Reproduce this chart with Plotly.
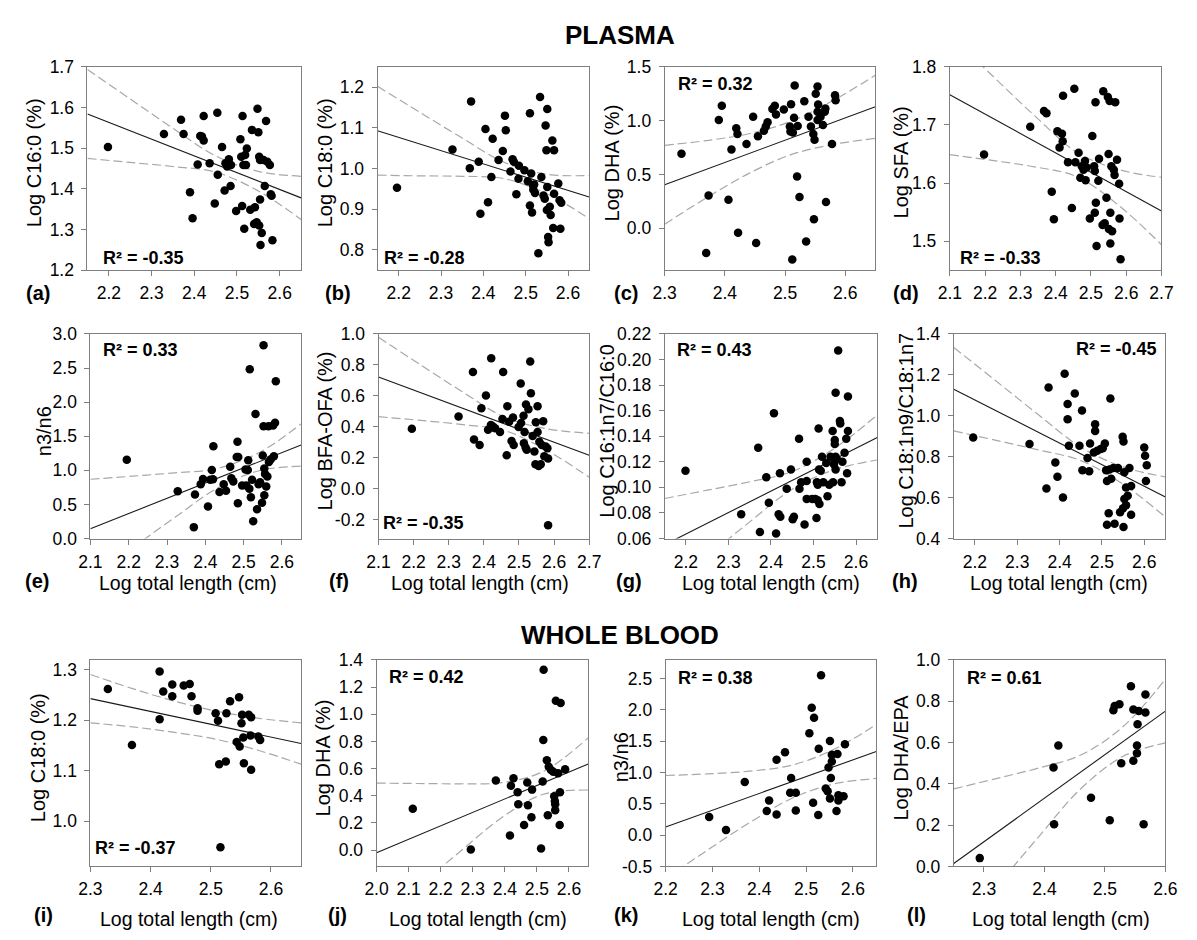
import plotly.graph_objects as go

W, H = 1197, 940
FONT = "Liberation Sans, Arial, sans-serif"

# ======================= DATA =======================
# (a) PLASMA - Log C16:0 (%)
a_x = [2.198, 2.329, 2.369, 2.375, 2.390, 2.396, 2.408, 2.414, 2.418, 2.422, 2.422, 2.436, 2.448, 2.454, 2.455,
       2.465, 2.471, 2.473, 2.477, 2.481, 2.485, 2.486, 2.498, 2.508, 2.510, 2.513, 2.512, 2.515, 2.517, 2.519,
       2.521, 2.523, 2.531, 2.535, 2.540, 2.542, 2.546, 2.548, 2.550, 2.552, 2.554, 2.552, 2.554, 2.555, 2.558,
       2.562, 2.565, 2.568, 2.571, 2.577, 2.579, 2.583, 2.581]
a_y = [1.503, 1.535, 1.570, 1.535, 1.392, 1.328, 1.460, 1.530, 1.529, 1.519, 1.579, 1.463, 1.364, 1.587, 1.435,
       1.503, 1.396, 1.463, 1.455, 1.473, 1.407, 1.459, 1.346, 1.522, 1.479, 1.579, 1.358, 1.459, 1.302, 1.483,
       1.459, 1.499, 1.349, 1.545, 1.314, 1.355, 1.318, 1.597, 1.539, 1.479, 1.374, 1.310, 1.471, 1.262, 1.292,
       1.471, 1.407, 1.567, 1.467, 1.459, 1.387, 1.274, 1.383]
a_fit_x = [2.15, 2.65]
a_fit_y = [1.584, 1.378]
a_ci_x = [2.15, 2.25, 2.35, 2.45, 2.55, 2.65]
a_ci_hi = [1.693, 1.621, 1.549, 1.481, 1.443, 1.431]
a_ci_lo = [1.475, 1.465, 1.455, 1.441, 1.395, 1.325]

# (b) PLASMA - Log C18:0 (%)
b_x = [2.196, 2.327, 2.368, 2.371, 2.389, 2.393, 2.405, 2.411, 2.419, 2.422, 2.436, 2.446, 2.451, 2.453, 2.464,
       2.469, 2.472, 2.478, 2.483, 2.484, 2.497, 2.505, 2.510, 2.510, 2.513, 2.515, 2.517, 2.518, 2.520, 2.522,
       2.530, 2.534, 2.537, 2.542, 2.545, 2.547, 2.549, 2.551, 2.550, 2.551, 2.553, 2.554, 2.557, 2.559, 2.563,
       2.567, 2.567, 2.565, 2.577, 2.580, 2.584, 2.582]
b_y = [0.953, 1.047, 1.001, 1.165, 1.017, 0.889, 1.097, 0.917, 0.979, 1.073, 1.021, 1.043, 1.130, 1.094, 0.993,
       1.023, 1.017, 0.937, 0.975, 1.007, 0.996, 0.969, 1.136, 0.909, 0.988, 0.892, 0.959, 0.948, 0.961, 0.940,
       0.792, 1.176, 0.979, 0.934, 0.926, 1.106, 1.045, 1.146, 0.898, 0.955, 0.832, 0.819, 0.906, 0.886, 1.069,
       1.045, 0.938, 0.854, 0.963, 0.922, 0.916, 0.852]
b_fit_x = [2.15, 2.65]
b_fit_y = [1.093, 0.930]
b_ci_x = [2.15, 2.25, 2.35, 2.45, 2.55, 2.65]
b_ci_hi = [1.202, 1.138, 1.075, 1.015, 0.986, 0.983]
b_ci_lo = [0.984, 0.982, 0.981, 0.975, 0.938, 0.877]

# (c) PLASMA - Log DHA (%)
c_x = [2.328, 2.369, 2.373, 2.390, 2.395, 2.406, 2.411, 2.419, 2.421, 2.422, 2.436, 2.447, 2.452, 2.455, 2.465,
       2.468, 2.471, 2.479, 2.483, 2.485, 2.498, 2.508, 2.510, 2.512, 2.509, 2.513, 2.515, 2.516, 2.520, 2.521,
       2.524, 2.532, 2.535, 2.539, 2.543, 2.547, 2.548, 2.549, 2.551, 2.554, 2.554, 2.555, 2.554, 2.559, 2.563,
       2.566, 2.567, 2.568, 2.578, 2.583, 2.584]
c_y = [0.692, -0.229, 0.305, 1.006, 1.137, 0.265, 0.732, 0.930, 0.875, -0.040, 0.784, 1.037, -0.137, 0.854, 0.905,
       0.945, 0.985, 1.107, 1.137, 1.058, 1.104, 0.945, 1.152, -0.290, 0.899, 0.890, 1.027, 1.326, 0.482, 0.951,
       0.290, 1.180, -0.122, 1.037, 0.945, 0.875, 0.085, 0.823, 1.250, 1.317, 1.082, 1.149, 1.006, 1.037, 0.960,
       1.082, 1.113, 0.244, 0.784, 1.235, 1.189]
c_fit_x = [2.30, 2.65]
c_fit_y = [0.405, 1.128]
c_ci_x = [2.30, 2.37, 2.44, 2.51, 2.58, 2.65]
c_ci_hi = [0.771, 0.815, 0.878, 0.994, 1.187, 1.421]
c_ci_lo = [0.039, 0.285, 0.510, 0.684, 0.779, 0.835]

# (d) PLASMA - Log SFA (%)
d_x = [2.197, 2.328, 2.367, 2.374, 2.389, 2.395, 2.405, 2.411, 2.418, 2.420, 2.421, 2.435, 2.446, 2.453, 2.456,
       2.465, 2.470, 2.474, 2.479, 2.483, 2.485, 2.488, 2.497, 2.504, 2.509, 2.511, 2.511, 2.513, 2.514, 2.516,
       2.521, 2.523, 2.535, 2.533, 2.539, 2.544, 2.548, 2.550, 2.553, 2.555, 2.551, 2.555, 2.558, 2.560, 2.565,
       2.567, 2.569, 2.574, 2.580, 2.581, 2.584]
d_y = [1.649, 1.697, 1.724, 1.720, 1.585, 1.538, 1.689, 1.661, 1.685, 1.672, 1.750, 1.636, 1.557, 1.762, 1.636,
       1.652, 1.609, 1.629, 1.623, 1.638, 1.605, 1.627, 1.539, 1.681, 1.629, 1.621, 1.549, 1.739, 1.566, 1.492,
       1.604, 1.642, 1.758, 1.528, 1.531, 1.575, 1.748, 1.650, 1.741, 1.549, 1.521, 1.496, 1.629, 1.517, 1.623,
       1.614, 1.739, 1.640, 1.599, 1.539, 1.469]
d_fit_x = [2.10, 2.70]
d_fit_y = [1.752, 1.552]
d_ci_x = [2.10, 2.22, 2.34, 2.46, 2.58, 2.70]
d_ci_hi = [1.855, 1.785, 1.716, 1.653, 1.623, 1.610]
d_ci_lo = [1.649, 1.639, 1.628, 1.611, 1.561, 1.494]

# (e) PLASMA - n3/n6
e_x = [2.195, 2.328, 2.370, 2.373, 2.388, 2.394, 2.407, 2.413, 2.417, 2.421, 2.420, 2.437, 2.448, 2.454, 2.465,
       2.468, 2.473, 2.482, 2.484, 2.485, 2.486, 2.496, 2.505, 2.507, 2.511, 2.512, 2.515, 2.516, 2.519, 2.522,
       2.525, 2.531, 2.535, 2.539, 2.543, 2.548, 2.550, 2.552, 2.554, 2.552, 2.554, 2.556, 2.559, 2.562, 2.565,
       2.566, 2.571, 2.577, 2.582, 2.579, 2.584]
e_y = [1.156, 0.692, 0.167, 0.645, 0.797, 0.874, 0.468, 0.860, 1.003, 1.352, 0.869, 0.683, 0.797, 0.702, 1.051,
       0.883, 0.836, 1.194, 1.419, 0.516, 1.194, 0.778, 1.012, 0.778, 1.003, 1.146, 0.731, 2.484, 0.606, 0.860,
       0.253, 1.825, 0.429, 0.797, 0.826, 0.525, 1.218, 2.833, 0.635, 1.648, 1.027, 0.946, 0.764, 0.908, 1.648,
       1.122, 1.161, 1.657, 1.696, 1.208, 2.307]
e_fit_x = [2.10, 2.65]
e_fit_y = [0.143, 1.371]
e_ci_x = [2.10, 2.21, 2.32, 2.43, 2.54, 2.65]
e_ci_hi = [0.869, 0.914, 0.963, 1.026, 1.258, 1.681]
e_ci_lo = [-0.583, -0.136, 0.307, 0.735, 0.994, 1.061]

# (f) PLASMA - Log BFA-OFA (%)
f_x = [2.195, 2.328, 2.369, 2.372, 2.388, 2.393, 2.406, 2.412, 2.421, 2.420, 2.426, 2.432, 2.446, 2.453, 2.455,
       2.465, 2.467, 2.472, 2.479, 2.483, 2.485, 2.499, 2.505, 2.506, 2.513, 2.514, 2.516, 2.519, 2.520, 2.522,
       2.527, 2.532, 2.534, 2.539, 2.544, 2.547, 2.548, 2.553, 2.553, 2.556, 2.558, 2.562, 2.565, 2.569, 2.572,
       2.576, 2.581, 2.583, 2.583]
f_y = [0.388, 0.468, 0.754, 0.319, 0.284, 0.520, 0.603, 0.382, 0.843, 0.413, 0.403, 0.392, 0.367, 0.451, 0.754,
       0.217, 0.534, 0.434, 0.309, 0.461, 0.284, 0.399, 0.681, 0.426, 0.472, 0.294, 0.367, 0.267, 0.545, 0.253,
       0.514, 0.823, 0.618, 0.342, 0.242, 0.159, 0.430, 0.534, 0.367, 0.148, 0.305, 0.159, 0.284, 0.436, 0.211,
       0.273, 0.263, 0.196, -0.234]
f_fit_x = [2.10, 2.70]
f_fit_y = [0.722, 0.217]
f_ci_x = [2.10, 2.22, 2.34, 2.46, 2.58, 2.70]
f_ci_hi = [0.978, 0.800, 0.625, 0.462, 0.388, 0.359]
f_ci_lo = [0.466, 0.442, 0.415, 0.376, 0.248, 0.075]

# (g) PLASMA - Log C16:1n7/C16:0
g_x = [2.199, 2.330, 2.370, 2.374, 2.389, 2.395, 2.407, 2.412, 2.418, 2.421, 2.422, 2.437, 2.447, 2.451, 2.454,
       2.466, 2.467, 2.471, 2.479, 2.484, 2.484, 2.484, 2.497, 2.504, 2.507, 2.508, 2.510, 2.510, 2.512, 2.513,
       2.514, 2.517, 2.520, 2.523, 2.530, 2.533, 2.537, 2.540, 2.545, 2.546, 2.548, 2.550, 2.550, 2.552, 2.552,
       2.552, 2.555, 2.558, 2.562, 2.563, 2.568, 2.566, 2.573, 2.577, 2.579, 2.581, 2.581]
g_y = [0.113, 0.079, 0.131, 0.065, 0.108, 0.088, 0.158, 0.064, 0.079, 0.111, 0.077, 0.099, 0.114, 0.075, 0.077,
       0.138, 0.099, 0.104, 0.071, 0.105, 0.120, 0.091, 0.091, 0.091, 0.076, 0.104, 0.090, 0.102, 0.146, 0.114,
       0.087, 0.113, 0.124, 0.104, 0.119, 0.093, 0.102, 0.124, 0.144, 0.104, 0.118, 0.137, 0.134, 0.174, 0.124,
       0.114, 0.122, 0.207, 0.152, 0.150, 0.120, 0.104, 0.127, 0.138, 0.111, 0.171, 0.144]
g_fit_x = [2.15, 2.65]
g_fit_y = [0.0551, 0.1391]
g_ci_x = [2.15, 2.25, 2.35, 2.45, 2.55, 2.65]
g_ci_hi = [0.0913, 0.0978, 0.1044, 0.1124, 0.1307, 0.1568]
g_ci_lo = [0.0189, 0.0460, 0.0730, 0.0986, 0.1139, 0.1214]

# (h) PLASMA - Log C18:1n9/C18:1n7
h_x = [2.196, 2.329, 2.369, 2.374, 2.390, 2.395, 2.408, 2.412, 2.419, 2.419, 2.422, 2.436, 2.447, 2.453, 2.454,
       2.466, 2.470, 2.472, 2.481, 2.484, 2.484, 2.489, 2.497, 2.502, 2.507, 2.510, 2.512, 2.512, 2.516, 2.518,
       2.520, 2.522, 2.527, 2.530, 2.538, 2.543, 2.549, 2.551, 2.550, 2.551, 2.553, 2.553, 2.557, 2.557, 2.561,
       2.565, 2.569, 2.569, 2.600, 2.602, 2.606, 2.604]
h_y = [0.894, 0.862, 0.644, 1.138, 0.772, 0.702, 0.601, 1.206, 1.058, 0.983, 0.853, 1.109, 0.853, 1.026, 0.734,
       0.793, 0.729, 0.865, 0.821, 0.959, 0.926, 0.829, 0.837, 0.841, 0.865, 0.734, 0.681, 0.467, 0.524, 0.737,
       1.085, 0.692, 0.745, 0.472, 0.745, 0.528, 0.898, 0.874, 0.548, 0.456, 0.724, 0.593, 0.649, 0.563, 0.609,
       0.745, 0.516, 0.657, 0.845, 0.804, 0.758, 0.681]
h_fit_x = [2.15, 2.65]
h_fit_y = [1.130, 0.603]
h_ci_x = [2.15, 2.25, 2.35, 2.45, 2.55, 2.65]
h_ci_hi = [1.334, 1.170, 1.005, 0.847, 0.750, 0.701]
h_ci_lo = [0.926, 0.880, 0.833, 0.781, 0.666, 0.505]

# (i) WHOLE BLOOD - Log C18:0 (%)
i_x = [2.329, 2.369, 2.415, 2.415, 2.421, 2.436, 2.436, 2.455, 2.465, 2.468, 2.478, 2.478, 2.508, 2.512, 2.514,
       2.516, 2.525, 2.526, 2.532, 2.543, 2.547, 2.548, 2.551, 2.552, 2.554, 2.555, 2.563, 2.566, 2.567, 2.567,
       2.579, 2.582]
i_y = [1.262, 1.151, 1.202, 1.297, 1.257, 1.271, 1.248, 1.269, 1.272, 1.248, 1.224, 1.219, 1.214, 1.199, 1.113,
       0.948, 1.118, 1.214, 1.238, 1.157, 1.246, 1.148, 1.194, 1.211, 1.166, 1.115, 1.211, 1.170, 1.206, 1.102,
       1.168, 1.161]
i_fit_x = [2.30, 2.65]
i_fit_y = [1.243, 1.154]
i_ci_x = [2.30, 2.37, 2.44, 2.51, 2.58, 2.65]
i_ci_hi = [1.291, 1.263, 1.238, 1.218, 1.204, 1.195]
i_ci_lo = [1.195, 1.187, 1.176, 1.162, 1.140, 1.113]

# (j) WHOLE BLOOD - Log DHA (%)
j_x = [2.113, 2.294, 2.372, 2.416, 2.419, 2.427, 2.440, 2.442, 2.460, 2.470, 2.472, 2.483, 2.485, 2.518, 2.513,
       2.520, 2.521, 2.531, 2.534, 2.537, 2.544, 2.551, 2.554, 2.556, 2.557, 2.557, 2.559, 2.566, 2.571, 2.574,
       2.572, 2.588]
j_y = [0.305, 0.005, 0.512, 0.108, 0.474, 0.529, 0.426, 0.337, 0.185, 0.498, 0.330, 0.241, 0.445, 0.505, 0.012,
       0.811, 1.328, 0.661, 0.257, 0.613, 0.589, 0.577, 0.397, 0.361, 0.337, 0.293, 1.099, 0.565, 0.185, 1.082,
       0.426, 0.594]
j_fit_x = [2.00, 2.66]
j_fit_y = [-0.019, 0.634]
j_ci_x = [2.00, 2.13, 2.26, 2.39, 2.52, 2.66]
j_ci_hi = [0.493, 0.490, 0.488, 0.496, 0.579, 0.826]
j_ci_lo = [-0.531, -0.270, -0.012, 0.238, 0.411, 0.442]

# (k) WHOLE BLOOD - n3/n6
k_x = [2.293, 2.329, 2.369, 2.416, 2.421, 2.437, 2.437, 2.455, 2.468, 2.466, 2.478, 2.478, 2.507, 2.512, 2.515,
       2.517, 2.526, 2.527, 2.532, 2.542, 2.546, 2.548, 2.551, 2.551, 2.553, 2.555, 2.555, 2.565, 2.567, 2.569,
       2.569, 2.580, 2.583]
k_y = [0.288, 0.082, 0.849, 0.384, 0.553, 1.204, 0.331, 1.325, 0.913, 0.675, 0.675, 0.394, 1.627, 2.034, 0.516,
       1.876, 0.320, 1.378, 2.553, 0.743, 0.701, 1.082, 1.505, 0.585, 0.913, 1.283, 1.177, 0.384, 1.294, 0.553,
       0.638, 0.622, 1.452]
k_fit_x = [2.20, 2.65]
k_fit_y = [0.130, 1.336]
k_ci_x = [2.20, 2.29, 2.38, 2.47, 2.56, 2.65]
k_ci_hi = [0.952, 0.979, 1.022, 1.119, 1.371, 1.767]
k_ci_lo = [-0.692, -0.237, 0.202, 0.589, 0.819, 0.905]

# (l) WHOLE BLOOD - Log DHA/EPA
l_x = [2.293, 2.415, 2.416, 2.423, 2.477, 2.508, 2.514, 2.516, 2.524, 2.527, 2.543, 2.547, 2.547, 2.553, 2.553,
       2.554, 2.556, 2.564, 2.567, 2.567]
l_y = [0.040, 0.479, 0.204, 0.585, 0.332, 0.223, 0.756, 0.777, 0.785, 0.500, 0.872, 0.760, 0.511, 0.548, 0.585,
       0.688, 0.752, 0.204, 0.745, 0.832]
l_fit_x = [2.25, 2.60]
l_fit_y = [0.014, 0.752]
l_ci_x = [2.25, 2.32, 2.39, 2.46, 2.53, 2.60]
l_ci_hi = [0.375, 0.425, 0.476, 0.539, 0.677, 0.906]
l_ci_lo = [-0.347, -0.101, 0.142, 0.376, 0.533, 0.598]

# labels
panel_letters = ["(a)", "(b)", "(c)", "(d)", "(e)", "(f)", "(g)", "(h)", "(i)", "(j)", "(k)", "(l)"]
y_titles = ["Log C16:0 (%)", "Log C18:0 (%)", "Log DHA (%)", "Log SFA (%)",
            "n3/n6", "Log BFA-OFA (%)", "Log C16:1n7/C16:0", "Log C18:1n9/C18:1n7",
            "Log C18:0 (%)", "Log DHA (%)", "n3/n6", "Log DHA/EPA"]
r2_texts = ["R² = -0.35", "R² = -0.28", "R² = 0.32", "R² = -0.33",
            "R² = 0.33", "R² = -0.35", "R² = 0.43", "R² = -0.45",
            "R² = -0.37", "R² = 0.42", "R² = 0.38", "R² = 0.61"]
x_title = "Log total length (cm)"
section_titles = ["PLASMA", "WHOLE BLOOD"]

x_ranges = [[2.15, 2.65], [2.15, 2.65], [2.30, 2.65], [2.10, 2.70],
            [2.10, 2.65], [2.10, 2.70], [2.15, 2.65], [2.15, 2.65],
            [2.30, 2.65], [2.00, 2.66], [2.20, 2.65], [2.25, 2.60]]
y_ranges = [[1.20, 1.70], [0.75, 1.25], [-0.39, 1.50], [1.45, 1.80],
            [0.0, 3.0], [-0.32, 1.00], [0.06, 0.22], [0.40, 1.40],
            [0.91, 1.32], [-0.12, 1.40], [-0.50, 2.80], [0.0, 1.0]]
x_ticks = [[2.2, 2.3, 2.4, 2.5, 2.6], [2.2, 2.3, 2.4, 2.5, 2.6], [2.3, 2.4, 2.5, 2.6],
           [2.1, 2.2, 2.3, 2.4, 2.5, 2.6, 2.7],
           [2.1, 2.2, 2.3, 2.4, 2.5, 2.6], [2.1, 2.2, 2.3, 2.4, 2.5, 2.6, 2.7],
           [2.2, 2.3, 2.4, 2.5, 2.6], [2.2, 2.3, 2.4, 2.5, 2.6],
           [2.3, 2.4, 2.5, 2.6], [2.0, 2.1, 2.2, 2.3, 2.4, 2.5, 2.6],
           [2.2, 2.3, 2.4, 2.5, 2.6], [2.3, 2.4, 2.5, 2.6]]
y_ticks = [[1.2, 1.3, 1.4, 1.5, 1.6, 1.7], [0.8, 0.9, 1.0, 1.1, 1.2], [0.0, 0.5, 1.0, 1.5],
           [1.5, 1.6, 1.7, 1.8],
           [0.0, 0.5, 1.0, 1.5, 2.0, 2.5, 3.0], [-0.2, 0.0, 0.2, 0.4, 0.6, 0.8, 1.0],
           [0.06, 0.08, 0.10, 0.12, 0.14, 0.16, 0.18, 0.20, 0.22], [0.4, 0.6, 0.8, 1.0, 1.2, 1.4],
           [1.0, 1.1, 1.2, 1.3], [0.0, 0.2, 0.4, 0.6, 0.8, 1.0, 1.2, 1.4],
           [-0.5, 0.0, 0.5, 1.0, 1.5, 2.0, 2.5], [0.0, 0.2, 0.4, 0.6, 0.8, 1.0]]
y_decimals = [1, 1, 1, 1, 1, 1, 2, 1, 1, 1, 1, 1]

series = [
    (a_x, a_y, a_fit_x, a_fit_y, a_ci_x, a_ci_hi, a_ci_lo),
    (b_x, b_y, b_fit_x, b_fit_y, b_ci_x, b_ci_hi, b_ci_lo),
    (c_x, c_y, c_fit_x, c_fit_y, c_ci_x, c_ci_hi, c_ci_lo),
    (d_x, d_y, d_fit_x, d_fit_y, d_ci_x, d_ci_hi, d_ci_lo),
    (e_x, e_y, e_fit_x, e_fit_y, e_ci_x, e_ci_hi, e_ci_lo),
    (f_x, f_y, f_fit_x, f_fit_y, f_ci_x, f_ci_hi, f_ci_lo),
    (g_x, g_y, g_fit_x, g_fit_y, g_ci_x, g_ci_hi, g_ci_lo),
    (h_x, h_y, h_fit_x, h_fit_y, h_ci_x, h_ci_hi, h_ci_lo),
    (i_x, i_y, i_fit_x, i_fit_y, i_ci_x, i_ci_hi, i_ci_lo),
    (j_x, j_y, j_fit_x, j_fit_y, j_ci_x, j_ci_hi, j_ci_lo),
    (k_x, k_y, k_fit_x, k_fit_y, k_ci_x, k_ci_hi, k_ci_lo),
    (l_x, l_y, l_fit_x, l_fit_y, l_ci_x, l_ci_hi, l_ci_lo),
]

# ======================= LAYOUT (pixels) =======================
# plot boxes: (left, right, top, bottom)
boxes = [
    (77, 295, 58, 266), (373, 589, 58, 266), (666, 881, 58, 266), (957, 1173, 58, 266),
    (80, 295, 331, 540), (374, 589, 331, 540), (666, 883, 331, 540), (961, 1177, 331, 540),
    (80, 295, 664, 875), (372, 588, 664, 875), (667, 882, 664, 875), (961, 1177, 664, 875),
]
letter_pos = [(27, 289), (333, 289), (627, 289), (912, 289),
              (26, 583), (334, 583), (630, 583), (911, 583),
              (32, 925), (332, 925), (627, 925), (923, 925)]
ytitle_pos = [(22, 156), (319, 156), (612, 156), (907, 156),
              (32, 430), (319, 430), (607, 430), (912, 430),
              (26, 764), (317, 764), (621, 764), (907, 764)]
# (x, y, anchor)
r2_pos = [(91, 253, "left"), (378, 253, "left"), (678, 76, "left"), (965, 253, "left"),
          (91, 347, "left"), (377, 524, "left"), (677, 347, "left"), (1170, 346, "right"),
          (83, 856, "left"), (383, 682, "left"), (678, 683, "left"), (972, 683, "left")]
xtitle_pos = [None, None, None, None,
              (180, 585), (478, 585), (775, 585), (1068, 585),
              (181, 929), (476, 929), (775, 929), (1070, 929)]
section_pos = [(620, 26), (620, 639)]

AXIS_COL = "#7f7f7f"


def px(x):
    return x / W


def py(y):
    return 1 - y / H


fig = go.Figure()
layout = dict(
    width=W, height=H, margin=dict(l=0, r=0, t=0, b=0),
    paper_bgcolor="white", plot_bgcolor="white", showlegend=False,
    font=dict(family=FONT, color="black"),
)
annotations = []

for n, (sx, sy, fx, fy, cx, chi, clo) in enumerate(series):
    k = n + 1
    xr = "x" if k == 1 else f"x{k}"
    yr = "y" if k == 1 else f"y{k}"
    # confidence bands
    for band in (chi, clo):
        fig.add_trace(go.Scatter(x=cx, y=band, mode="lines", xaxis=xr, yaxis=yr,
                                 line=dict(color="#a8a8a8", width=1.2, dash="9px,4px", shape="spline"),
                                 hoverinfo="skip"))
    # regression line
    fig.add_trace(go.Scatter(x=fx, y=fy, mode="lines", xaxis=xr, yaxis=yr,
                             line=dict(color="#1a1a1a", width=1.1), hoverinfo="skip"))
    # points
    fig.add_trace(go.Scatter(x=sx, y=sy, mode="markers", xaxis=xr, yaxis=yr,
                             marker=dict(color="black", size=8.5, line=dict(width=0)),
                             cliponaxis=False))

    l, r, t, b = boxes[n]
    dec = y_decimals[n]
    xa = dict(domain=[px(l), px(r)], range=x_ranges[n], anchor=yr,
              showline=True, linecolor=AXIS_COL, linewidth=1, mirror=True,
              ticks="outside", ticklen=5, tickcolor=AXIS_COL, tickwidth=1,
              tickvals=x_ticks[n], ticktext=[f"{v:.1f}" for v in x_ticks[n]],
              tickfont=dict(size=17.5, family=FONT, color="black"),
              ticklabelstandoff=2, showgrid=False, zeroline=False, fixedrange=True)
    ya = dict(domain=[py(b), py(t)], range=y_ranges[n], anchor=xr,
              showline=True, linecolor=AXIS_COL, linewidth=1, mirror=True,
              ticks="outside", ticklen=5, tickcolor=AXIS_COL, tickwidth=1,
              tickvals=y_ticks[n], ticktext=[f"{v:.{dec}f}" for v in y_ticks[n]],
              tickfont=dict(size=17.5, family=FONT, color="black"),
              ticklabelstandoff=4, showgrid=False, zeroline=False, fixedrange=True)
    layout["xaxis" if k == 1 else f"xaxis{k}"] = xa
    layout["yaxis" if k == 1 else f"yaxis{k}"] = ya

    # panel letter
    lx, ly = letter_pos[n]
    annotations.append(dict(text=f"<b>{panel_letters[n]}</b>", x=px(lx), y=py(ly), xref="paper", yref="paper",
                            showarrow=False, xanchor="center", yanchor="middle",
                            font=dict(size=20, family=FONT, color="black")))
    # y title
    tx, ty = ytitle_pos[n]
    annotations.append(dict(text=y_titles[n], x=px(tx), y=py(ty), xref="paper", yref="paper",
                            showarrow=False, textangle=-90, xanchor="center", yanchor="middle",
                            font=dict(size=20, family=FONT, color="black")))
    # R2
    rx, ry, ra = r2_pos[n]
    annotations.append(dict(text=f"<b>{r2_texts[n]}</b>", x=px(rx), y=py(ry), xref="paper", yref="paper",
                            showarrow=False, xanchor=ra, yanchor="middle",
                            font=dict(size=18, family=FONT, color="black")))
    # x title
    if xtitle_pos[n] is not None:
        xx, xy = xtitle_pos[n]
        annotations.append(dict(text=x_title, x=px(xx), y=py(xy), xref="paper", yref="paper",
                                showarrow=False, xanchor="center", yanchor="middle",
                                font=dict(size=19.5, family=FONT, color="black")))

for title, (sx_, sy_) in zip(section_titles, section_pos):
    annotations.append(dict(text=f"<b>{title}</b>", x=px(sx_), y=py(sy_), xref="paper", yref="paper",
                            showarrow=False, xanchor="center", yanchor="middle",
                            font=dict(size=26, family=FONT, color="black")))

layout["annotations"] = annotations
fig.update_layout(**layout)

fig.write_html("out.html", config={"displayModeBar": False},
               post_script="document.body.style.margin='0';document.body.style.overflow='hidden';")
